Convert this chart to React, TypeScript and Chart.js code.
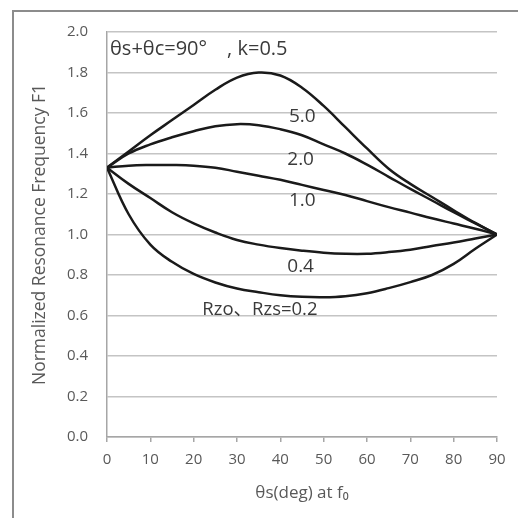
import React, { useEffect, useRef } from "react";
import { Chart, registerables } from "chart.js";
Chart.register(...registerables);

// θs (deg) sample positions
const thetaS = [0, 5, 10, 15, 20, 25, 30, 35, 40, 45, 50, 55, 60, 65, 70, 75, 80, 85, 90];
const xTicks = [0, 10, 20, 30, 40, 50, 60, 70, 80, 90];
const yTicks = [0, 0.2, 0.4, 0.6, 0.8, 1.0, 1.2, 1.4, 1.6, 1.8, 2.0];

// Normalized resonance frequency F1 for each Rzo, Rzs
const rz50 = [1.33, 1.41, 1.49, 1.565, 1.64, 1.715, 1.775, 1.8, 1.785, 1.725, 1.635, 1.53, 1.425, 1.325, 1.25, 1.185, 1.12, 1.057, 1.0];
const rz20 = [1.33, 1.40, 1.445, 1.48, 1.51, 1.535, 1.545, 1.54, 1.52, 1.49, 1.445, 1.40, 1.345, 1.285, 1.225, 1.168, 1.11, 1.055, 1.0];
const rz10 = [1.33, 1.34, 1.343, 1.343, 1.34, 1.33, 1.31, 1.29, 1.27, 1.245, 1.22, 1.195, 1.165, 1.135, 1.108, 1.08, 1.054, 1.028, 1.0];
const rz04 = [1.33, 1.25, 1.18, 1.11, 1.055, 1.01, 0.973, 0.95, 0.933, 0.92, 0.91, 0.905, 0.905, 0.913, 0.925, 0.943, 0.96, 0.98, 1.0];
const rz02 = [1.33, 1.10, 0.95, 0.865, 0.805, 0.763, 0.733, 0.715, 0.70, 0.692, 0.69, 0.695, 0.71, 0.735, 0.765, 0.80, 0.855, 0.93, 1.0];

const seriesNames = ["5.0", "2.0", "1.0", "0.4", "Rzo、Rzs=0.2"];
const seriesValues = [rz50, rz20, rz10, rz04, rz02];

const FONT = "'Open Sans', 'Noto Sans', 'Noto Sans CJK JP', sans-serif";

const annotations = [
  { text: "θs+θc=90°\u3000, k=0.5", x: 0.7, y: 1.915, size: 20 },
  { text: seriesNames[0], x: 42.0, y: 1.58, size: 19 },
  { text: seriesNames[1], x: 41.6, y: 1.368, size: 19 },
  { text: seriesNames[2], x: 42.0, y: 1.165, size: 19 },
  { text: seriesNames[3], x: 41.6, y: 0.84, size: 19 },
  { text: seriesNames[4], x: 22.0, y: 0.627, size: 18.5 },
];

const annotationPlugin = {
  id: "annotationsText",
  afterDatasetsDraw(chart: any) {
    const { ctx, scales } = chart;
    ctx.save();
    ctx.fillStyle = "#3a3a3a";
    ctx.textAlign = "left";
    ctx.textBaseline = "middle";
    for (const a of annotations) {
      ctx.font = `${a.size}px ${FONT}`;
      ctx.fillText(a.text, scales.x.getPixelForValue(a.x), scales.y.getPixelForValue(a.y));
    }
    ctx.restore();
  },
};

export default function App() {
  const ref = useRef<HTMLCanvasElement | null>(null);
  useEffect(() => {
    if (!ref.current) return;
    const chart = new Chart(ref.current, {
      type: "line",
      data: {
        datasets: seriesValues.map((vals, i) => ({
          label: seriesNames[i],
          data: vals.map((v, j) => ({ x: thetaS[j], y: v })),
          borderColor: "#1a1a1a",
          borderWidth: 2.5,
          pointRadius: 0,
          fill: false,
          tension: 0.4,
        })),
      },
      options: {
        animation: false,
        responsive: false,
        events: [],
        layout: { padding: { left: 0, top: 32, right: 21, bottom: 0 } },
        plugins: { legend: { display: false }, tooltip: { enabled: false } },
        scales: {
          x: {
            type: "linear",
            min: 0,
            max: 90,
            afterBuildTicks: (s: any) => { s.ticks = xTicks.map((v) => ({ value: v })); },
            afterFit: (s: any) => { s.height = 81; },
            grid: { drawOnChartArea: false, drawTicks: true, tickLength: 5, color: "#a6a6a6", lineWidth: 1.5 },
            border: { color: "#a6a6a6", width: 1.5 },
            ticks: { color: "#595959", font: { family: FONT, size: 15 }, padding: 9, maxRotation: 0 },
            title: { display: true, text: "θs(deg) at f₀", color: "#595959", font: { family: FONT, size: 17 }, padding: { bottom: 15, top: 0 } },
          },
          y: {
            type: "linear",
            min: 0,
            max: 2,
            afterBuildTicks: (s: any) => { s.ticks = yTicks.map((v) => ({ value: v })); },
            afterFit: (s: any) => { s.width = 107; },
            grid: { drawTicks: false, color: "#c4c4c4", lineWidth: 1.5 },
            border: { color: "#a6a6a6", width: 1.5 },
            ticks: { color: "#595959", font: { family: FONT, size: 15 }, padding: 19, callback: (v: any) => Number(v).toFixed(1) },
            title: { display: true, text: "Normalized Resonance Frequency F1", color: "#595959", font: { family: FONT, size: 17.5 }, padding: { top: 30, bottom: 0 } },
          },
        },
      },
      plugins: [annotationPlugin],
    });
    return () => chart.destroy();
  }, []);

  return (
    <div style={{ position: "fixed", left: 0, top: 0, width: 518, height: 518, overflow: "hidden", background: "#fff" }}>
      <div style={{ position: "absolute", left: 12, top: 10, width: 560, height: 560, border: "2px solid #8c8c8c", boxSizing: "border-box" }} />
      <canvas ref={ref} width={518} height={518} style={{ position: "absolute", left: 0, top: 0 }} />
    </div>
  );
}
